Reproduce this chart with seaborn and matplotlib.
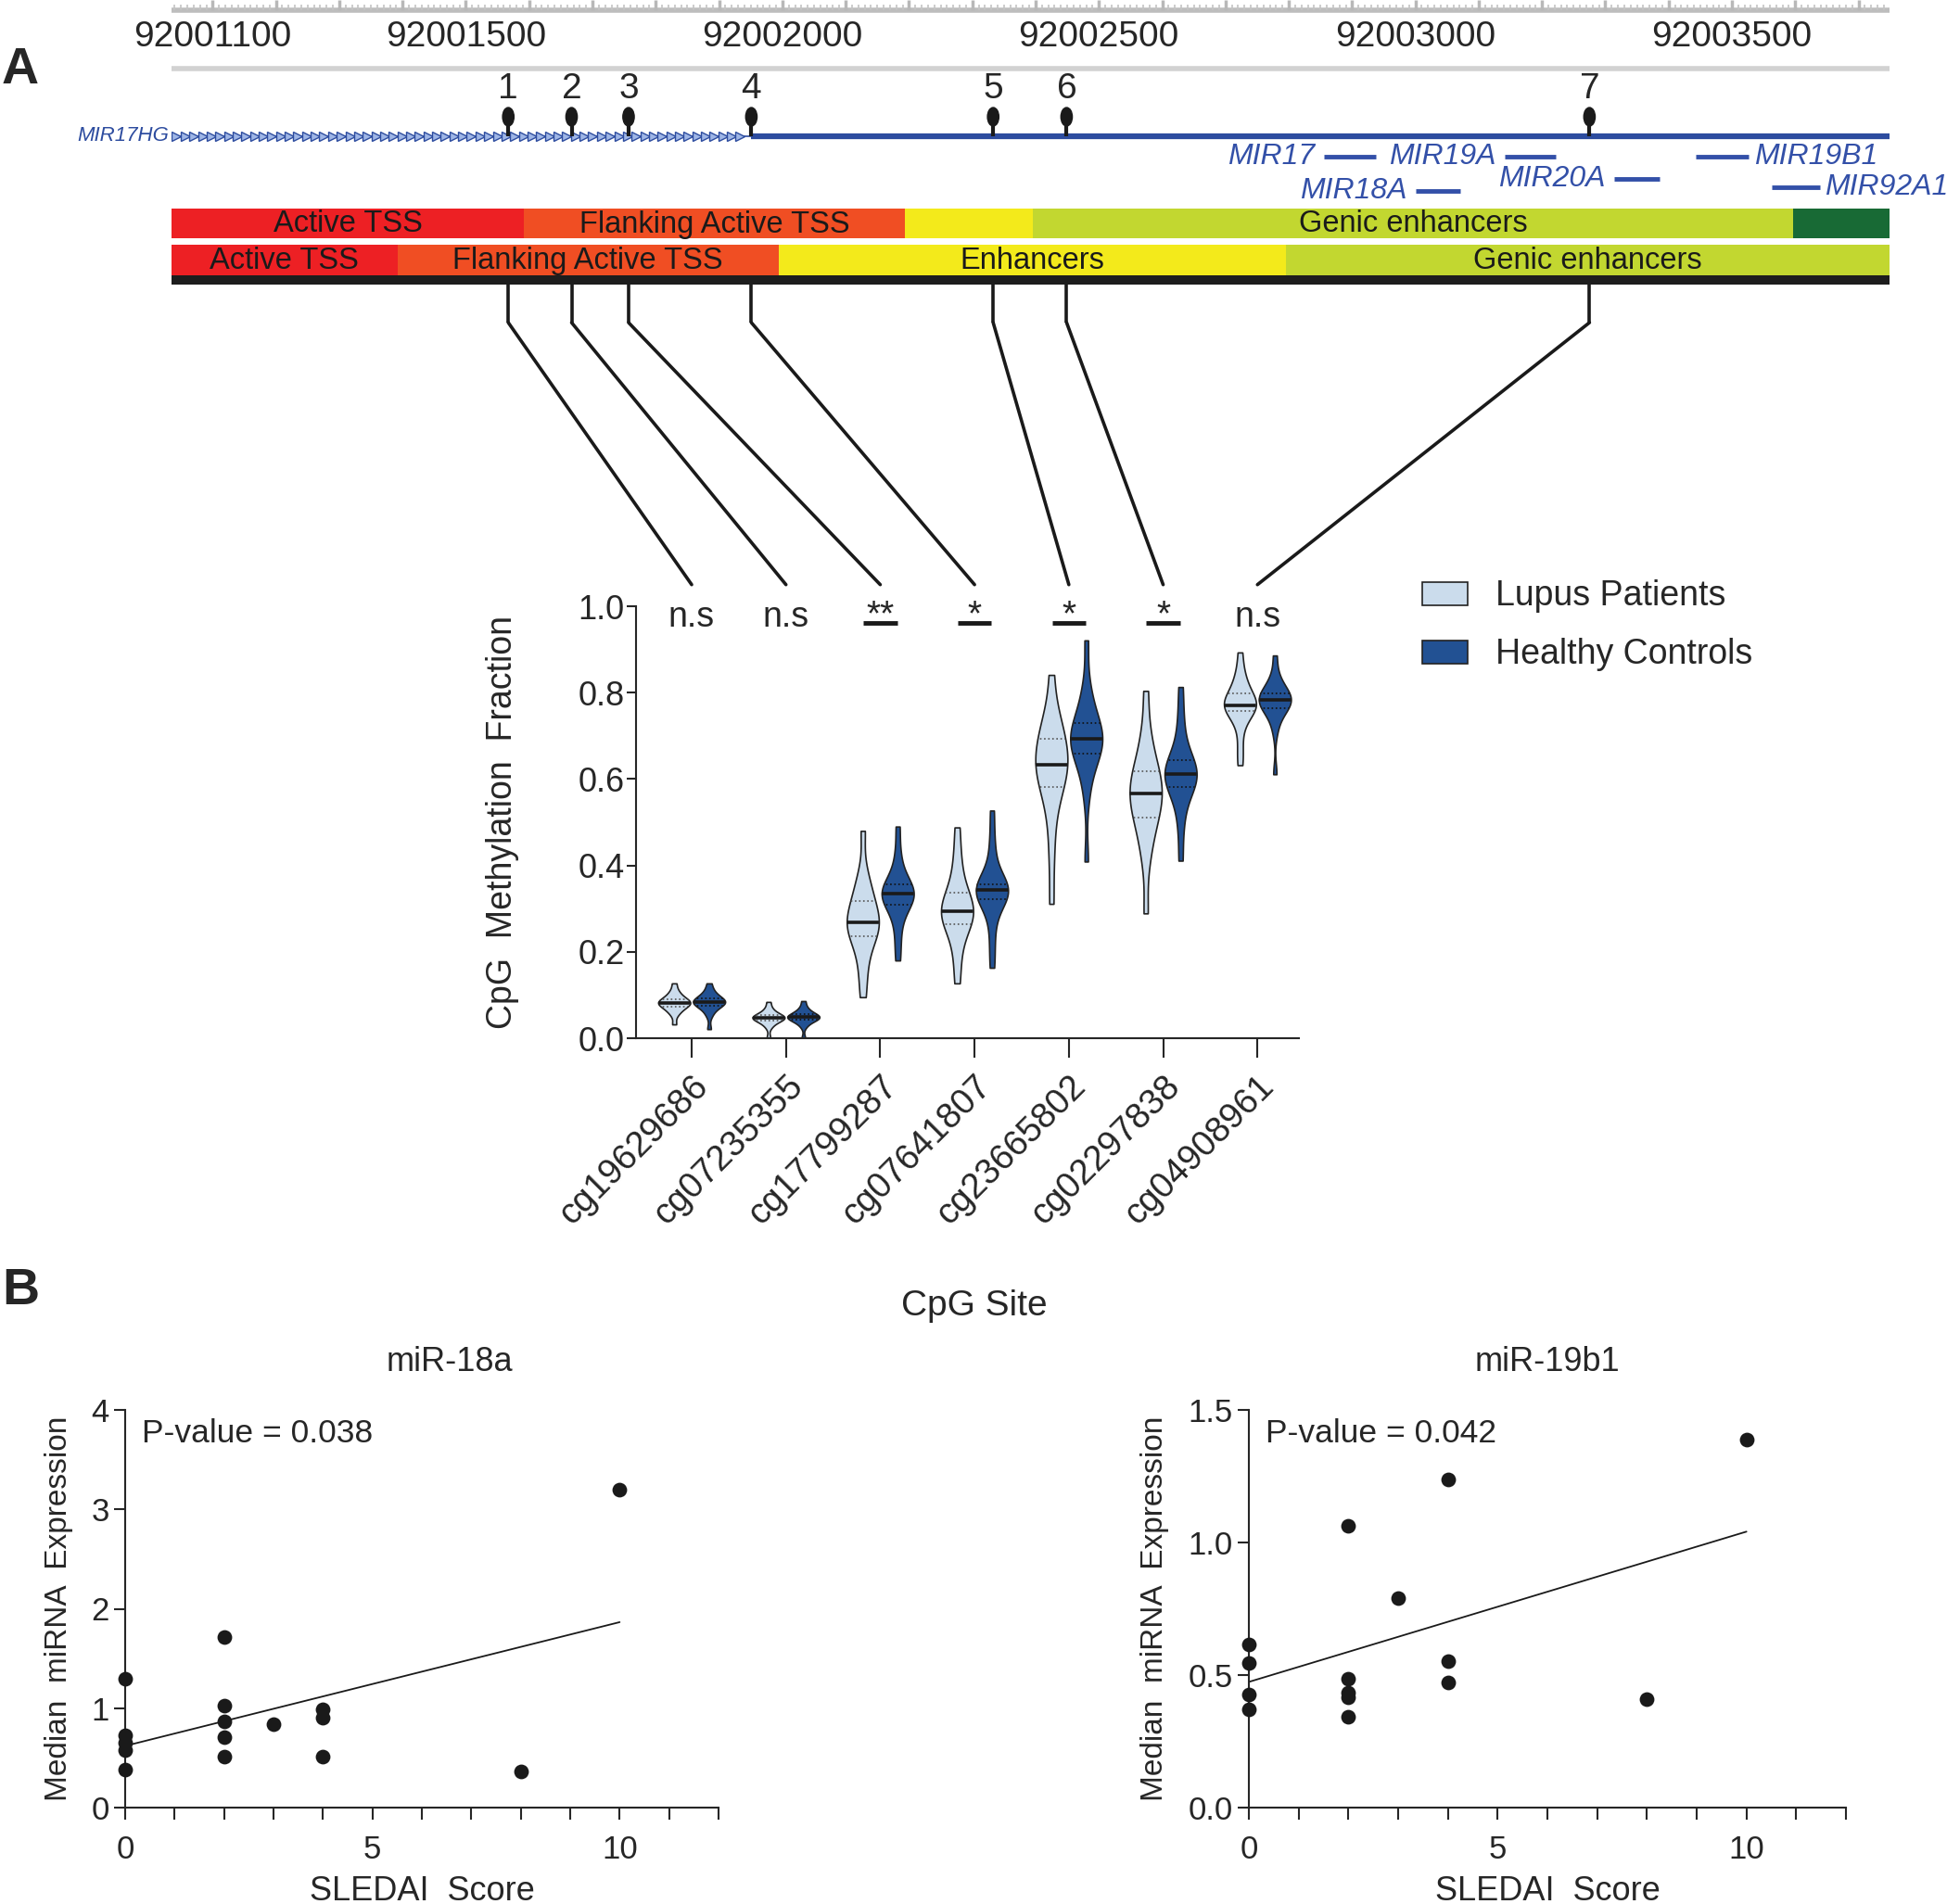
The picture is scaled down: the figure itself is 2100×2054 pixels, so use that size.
import numpy as np
import pandas as pd
import seaborn as sns
import matplotlib.pyplot as plt
from matplotlib.patches import Ellipse, ConnectionPatch

sns.set_theme(style="ticks")
plt.rcParams['font.family'] = ['Liberation Sans', 'DejaVu Sans']
NARROW = ['Liberation Sans Narrow', 'Liberation Sans', 'DejaVu Sans']

# ---------------- genome track (hg19 chr13) ----------------
track_start, track_end = 92001035, 92003749
ruler_labels = [92001100, 92001500, 92002000, 92002500, 92003000, 92003500]
cpg_pos = [92001567, 92001667, 92001757, 92001951, 92002333, 92002449, 92003275]
tss_end = 92001951

mir_names = ['MIR17', 'MIR19A', 'MIR18A', 'MIR20A', 'MIR19B1', 'MIR92A1']
mir_start = [92002855, 92003141, 92003000, 92003314, 92003443, 92003563]
mir_end = [92002937, 92003222, 92003071, 92003386, 92003527, 92003639]
mir_side = ['left', 'left', 'left', 'left', 'right', 'right']

state1_bounds = [92001035, 92001592, 92002194, 92002396, 92003596, 92003749]
state1_names = ['Active TSS', 'Flanking Active TSS', '', 'Genic enhancers', '']
state1_colors = ['#ed2024', '#f04e23', '#f3ea1b', '#c2d730', '#186a35']
state2_bounds = [92001035, 92001392, 92001994, 92002796, 92003749]
state2_names = ['Active TSS', 'Flanking Active TSS', 'Enhancers', 'Genic enhancers']
state2_colors = ['#ed2024', '#f04e23', '#f3ea1b', '#c2d730']

# ---------------- methylation per CpG site ----------------
sites = ['cg19629686', 'cg07235355', 'cg17799287', 'cg07641807',
         'cg23665802', 'cg02297838', 'cg04908961']
sig = ['n.s', 'n.s', '**', '*', '*', '*', 'n.s']
groups = ['Lupus Patients', 'Healthy Controls']

lupus = [
    [0.032, 0.055, 0.062, 0.068, 0.073, 0.076, 0.078, 0.080, 0.082, 0.084, 0.086, 0.089, 0.091, 0.096, 0.103, 0.110, 0.127],
    [0.001, 0.025, 0.033, 0.038, 0.041, 0.043, 0.045, 0.047, 0.048, 0.049, 0.050, 0.052, 0.054, 0.058, 0.063, 0.070, 0.084],
    [0.095, 0.145, 0.185, 0.215, 0.236, 0.245, 0.253, 0.261, 0.268, 0.278, 0.290, 0.304, 0.318, 0.335, 0.355, 0.385, 0.480],
    [0.127, 0.180, 0.220, 0.247, 0.264, 0.272, 0.280, 0.288, 0.295, 0.304, 0.314, 0.325, 0.337, 0.358, 0.390, 0.430, 0.488],
    [0.311, 0.420, 0.500, 0.550, 0.582, 0.598, 0.612, 0.624, 0.634, 0.646, 0.660, 0.676, 0.693, 0.710, 0.730, 0.755, 0.841],
    [0.289, 0.410, 0.455, 0.488, 0.511, 0.525, 0.540, 0.554, 0.567, 0.580, 0.592, 0.604, 0.617, 0.640, 0.672, 0.712, 0.804],
    [0.632, 0.670, 0.715, 0.742, 0.757, 0.761, 0.765, 0.768, 0.771, 0.777, 0.784, 0.791, 0.799, 0.813, 0.830, 0.850, 0.893],
]
healthy = [
    [0.021, 0.052, 0.063, 0.070, 0.075, 0.078, 0.080, 0.082, 0.084, 0.086, 0.088, 0.090, 0.093, 0.098, 0.104, 0.112, 0.127],
    [0.000, 0.027, 0.035, 0.040, 0.043, 0.045, 0.046, 0.048, 0.049, 0.050, 0.052, 0.054, 0.056, 0.060, 0.065, 0.072, 0.086],
    [0.180, 0.225, 0.265, 0.292, 0.309, 0.315, 0.322, 0.328, 0.334, 0.339, 0.344, 0.350, 0.357, 0.370, 0.392, 0.430, 0.490],
    [0.163, 0.215, 0.265, 0.300, 0.321, 0.328, 0.334, 0.339, 0.343, 0.346, 0.349, 0.353, 0.357, 0.382, 0.415, 0.462, 0.527],
    [0.409, 0.560, 0.612, 0.641, 0.659, 0.668, 0.677, 0.685, 0.693, 0.701, 0.710, 0.720, 0.730, 0.750, 0.780, 0.815, 0.921],
    [0.411, 0.485, 0.533, 0.563, 0.582, 0.590, 0.597, 0.604, 0.611, 0.619, 0.627, 0.635, 0.643, 0.665, 0.700, 0.748, 0.813],
    [0.611, 0.712, 0.742, 0.756, 0.764, 0.769, 0.775, 0.780, 0.784, 0.788, 0.791, 0.795, 0.799, 0.809, 0.822, 0.840, 0.886],
]

# ---------------- SLEDAI vs miRNA ----------------
sledai_18a = [0, 0, 0, 0, 0, 2, 2, 2, 2, 2, 3, 4, 4, 4, 8, 10]
mir18a = [1.30, 0.73, 0.65, 0.58, 0.38, 1.72, 1.03, 0.87, 0.71, 0.51, 0.84, 0.99, 0.90, 0.51, 0.36, 3.20]
sledai_19b1 = [0, 0, 0, 0, 2, 2, 2, 2, 2, 3, 4, 4, 4, 8, 10]
mir19b1 = [0.615, 0.544, 0.428, 0.371, 1.064, 0.487, 0.432, 0.416, 0.344, 0.791, 1.237, 0.551, 0.473, 0.408, 1.388]

light, dark = '#c5dcf1', '#0f4ea6'
gene_blue = '#2d4c9f'

fig = plt.figure(figsize=(21, 20.54), dpi=100)
W, H = 2100, 2054

def fax(left, top, right, bottom):
    return fig.add_axes([left / W, 1 - bottom / H, (right - left) / W, (bottom - top) / H])

# ===== track =====
axt = fax(185, 0, 2038, 351)
axt.set_xlim(track_start, track_end)
axt.set_ylim(351, 0)
axt.axis('off')

axt.hlines(11, track_start, track_end, color='#bdbdbd', lw=4)
axt.vlines(np.arange(92001040, track_end, 10), 5, 11, color='#c4c4c4', lw=1.2)
axt.vlines(np.arange(92001100, track_end, 100), 0, 11, color='#b8b8b8', lw=2.5)
for p in ruler_labels:
    axt.text(p, 40, str(p), ha='center', va='center', fontsize=28, family=NARROW)
axt.hlines(74, track_start, track_end, color='#d2d2d2', lw=4)

# gene body
axt.plot([track_start, tss_end], [147, 147], color=gene_blue, lw=1.2)
chev = np.arange(track_start + 8, tss_end - 4, 13.7)
axt.plot(chev, np.full(len(chev), 147), ls='none', marker='>', ms=7,
         mfc='#9fb6e6', mec=gene_blue, mew=1.0)
axt.plot([tss_end, track_end], [147, 147], color=gene_blue, lw=4.5, solid_capstyle='butt')
axt.text(track_start - 4, 147, 'MIR17HG', ha='right', va='center', fontsize=16,
         style='italic', color=gene_blue)

# CpG lollipops
axt.vlines(cpg_pos, 126, 147, color='k', lw=3)
for i, p in enumerate(cpg_pos):
    axt.add_patch(Ellipse((p, 126), 18, 20, color='k'))
    axt.text(p, 96, str(i + 1), ha='center', va='center', fontsize=28, family=NARROW)

# miRNAs
mir_y = [169, 169, 206, 193, 169, 202]
for n, s, e, side, y in zip(mir_names, mir_start, mir_end, mir_side, mir_y):
    axt.plot([s, e], [y, y], color='#3350a8', lw=3.5, solid_capstyle='butt')
    if side == 'left':
        axt.text(s - 14, y, n, ha='right', va='center', fontsize=23, style='italic', color='#3350a8')
    else:
        axt.text(e + 8, y, n, ha='left', va='center', fontsize=23, style='italic', color='#3350a8')

# chromatin states
for bounds, names, cols, yc, hh in [(state1_bounds, state1_names, state1_colors, 241, 32),
                                    (state2_bounds, state2_names, state2_colors, 280.5, 33)]:
    starts = np.array(bounds[:-1])
    widths = np.diff(bounds)
    axt.barh([yc] * len(starts), widths, left=starts, height=hh, color=cols, linewidth=0)
    for st, w, nm in zip(starts, widths, names):
        axt.text(st + w / 2, yc + 1, nm, ha='center', va='center', fontsize=23.5,
                 family=NARROW, color='#1a1a1a')
axt.barh([302], [track_end - track_start], left=[track_start], height=10, color='#1d1d1d', linewidth=0)

# ===== violins =====
df = pd.DataFrame(
    [(s, groups[0], v) for s, vals in zip(sites, lupus) for v in vals] +
    [(s, groups[1], v) for s, vals in zip(sites, healthy) for v in vals],
    columns=['site', 'group', 'value'])

ax = fax(686, 654, 1401, 1120)
sns.violinplot(data=df, x='site', y='value', hue='group', order=sites, hue_order=groups,
               palette=[light, dark], inner=None, cut=0, bw_adjust=0.75,
               density_norm='width', width=0.74, gap=0.08, linewidth=1.2,
               linecolor='#222222', ax=ax)

for poly in list(ax.collections):
    path = poly.get_paths()[0]
    xc = (path.vertices[:, 0].min() + path.vertices[:, 0].max()) / 2
    idx = int(round(xc))
    hue = 0 if xc < idx else 1
    vals = (lupus if hue == 0 else healthy)[idx]
    q1, med, q3 = np.percentile(vals, [25, 50, 75])
    qc = '#555555' if hue == 0 else '#111111'
    for q, ls, lw, c in [(q1, ':', 1.2, qc), (q3, ':', 1.2, qc), (med, '-', 2.6, 'k')]:
        ln, = ax.plot([xc - 0.3, xc + 0.3], [q, q], color=c, ls=ls, lw=lw)
        ln.set_clip_path(path, poly.get_transform())

ax.set_xlim(-0.59, 6.44)
ax.set_ylim(0, 1.0)
ax.set_yticks(np.arange(0, 1.01, 0.2))
ax.set_yticklabels([f'{v:.1f}' for v in np.arange(0, 1.01, 0.2)], fontsize=26, family=NARROW)
ax.set_xticks(range(len(sites)))
ax.set_xticklabels(sites, rotation=45, ha='right', va='top', rotation_mode='anchor', fontsize=27.5)
ax.tick_params(axis='x', length=15, width=1.5, pad=9)
ax.tick_params(axis='y', length=7, width=1.5, pad=2)
for sp in ['left', 'bottom']:
    ax.spines[sp].set_linewidth(1.5)
sns.despine(ax=ax)
ax.set_ylabel('CpG  Methylation  Fraction', fontsize=27, va='center')
ax.yaxis.set_label_coords(-0.201, 0.5)
ax.set_xlabel('CpG Site', fontsize=28, family=NARROW, va='center')
ax.xaxis.set_label_coords(0.51, -0.62)

for i, s in enumerate(sig):
    if s == 'n.s':
        ax.text(i, 0.975, s, ha='center', va='center', fontsize=27, family=NARROW, clip_on=False)
    else:
        ax.plot([i - 0.18, i + 0.18], [0.962, 0.962], color='k', lw=3.5, clip_on=False,
                solid_capstyle='butt')
        ax.text(i, 0.94, s, ha='center', va='bottom', fontsize=28, family=NARROW, clip_on=False)

sns.move_legend(ax, 'upper left', bbox_to_anchor=(1.139, 1.134), frameon=False, title=None,
                fontsize=27, handlelength=1.3, handleheight=0.66, labelspacing=0.72,
                handletextpad=0.8)

# connectors from CpG sites to violin groups
for i, p in enumerate(cpg_pos):
    axt.plot([p, p], [307, 348], color='k', lw=2.6, solid_capstyle='butt')
    con = ConnectionPatch(xyA=(p, 348), coordsA=axt.transData, xyB=(i, 1.05),
                          coordsB=ax.transData, color='k', lw=2.6)
    fig.add_artist(con)

# ===== scatter panels =====
def scatter_panel(a, x, y, title, ptext, yticks, yfmt, title_x):
    sns.regplot(x=x, y=y, ax=a, ci=None, truncate=True,
                scatter_kws=dict(s=130, color='k', linewidths=0, clip_on=False, zorder=3, alpha=1),
                line_kws=dict(color='k', lw=1.3))
    a.set_xlim(0, 12)
    a.set_ylim(yticks[0], yticks[-1])
    a.set_xticks([0, 5, 10])
    a.set_xticks(range(0, 13), minor=True)
    a.set_xticklabels(['0', '5', '10'], fontsize=25, family=NARROW)
    a.set_yticks(yticks)
    a.set_yticklabels([yfmt.format(v) for v in yticks], fontsize=25, family=NARROW)
    a.tick_params(which='both', length=9, width=1.5)
    a.tick_params(axis='x', pad=12)
    for sp in ['left', 'bottom']:
        a.spines[sp].set_linewidth(1.5)
    sns.despine(ax=a)
    a.text(title_x, 1.12, title, transform=a.transAxes, ha='center', va='center',
           fontsize=26, family=NARROW)
    a.text(0.028, 0.94, ptext, transform=a.transAxes, ha='left', va='center',
           fontsize=25.5, family=NARROW)
    a.set_xlabel('SLEDAI  Score', fontsize=26, family=NARROW, va='center')
    a.xaxis.set_label_coords(0.5, -0.21)
    a.set_ylabel('Median  miRNA  Expression', fontsize=24, va='center')

axl = fax(135, 1521, 775, 1950)
scatter_panel(axl, sledai_18a, mir18a, 'miR-18a', 'P-value = 0.038', [0, 1, 2, 3, 4], '{:.0f}', 0.546)
axl.yaxis.set_label_coords(-0.111, 0.5)

axr = fax(1347, 1521, 1991, 1950)
scatter_panel(axr, sledai_19b1, mir19b1, 'miR-19b1', 'P-value = 0.042', [0, 0.5, 1.0, 1.5], '{:.1f}', 0.5)
axr.yaxis.set_label_coords(-0.158, 0.5)

fig.text(2 / W, 1 - 76 / H, 'A', ha='left', va='center', fontsize=40, weight='bold')
fig.text(2 / W, 1 - 1393 / H, 'B', ha='left', va='center', fontsize=40, weight='bold')

fig.savefig('out.png', dpi=100)
